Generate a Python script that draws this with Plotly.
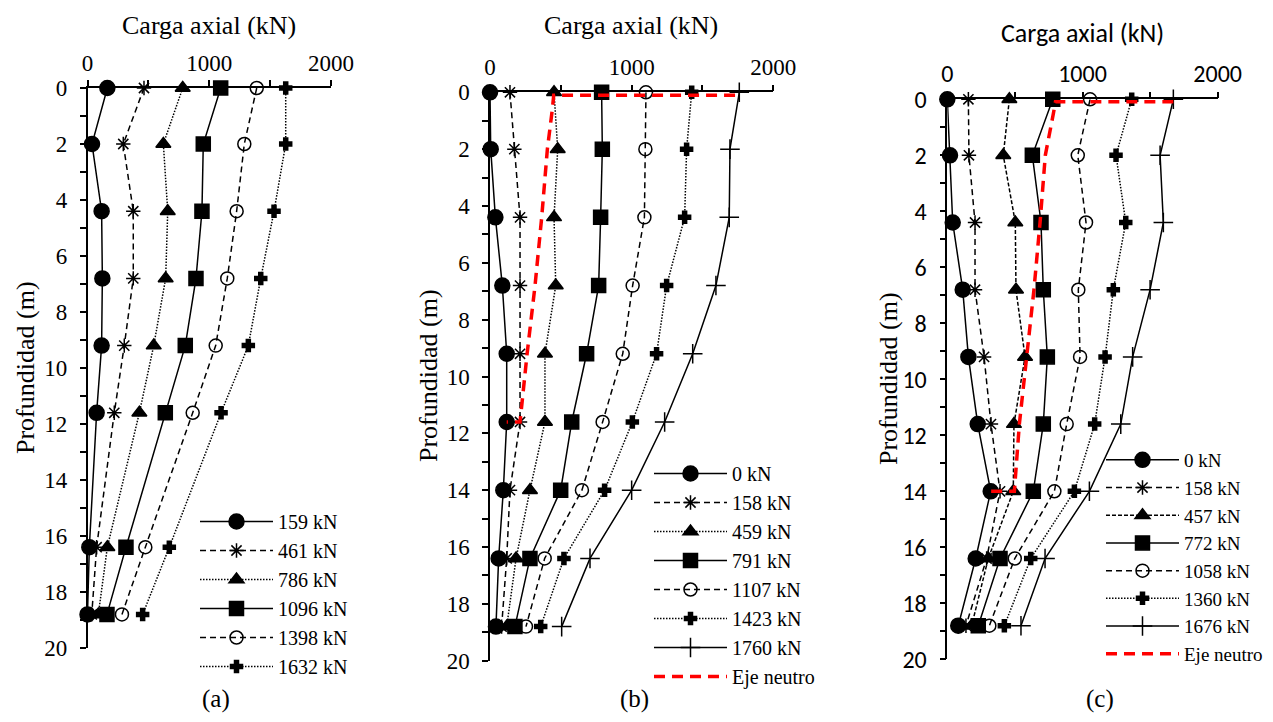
import plotly.graph_objects as go

# window is 1273x722; the page body has an 8px margin, so the figure is 16px smaller
WIN_W, WIN_H = 1273, 722
OFF = 8
W, H = WIN_W - 2 * OFF, WIN_H - 2 * OFF

# ---------------- data ----------------
depth_a = [0, 2, 4.4, 6.8, 9.2, 11.6, 16.4, 18.8]
depth_bc = [0, 2, 4.4, 6.8, 9.2, 11.6, 14, 16.4, 18.8]

labels_a = ["159 kN", "461 kN", "786 kN", "1096 kN", "1398 kN", "1632 kN"]
a_159 = [163, 37, 116, 122, 116, 75, 15, 0]
a_461 = [464, 294, 376, 376, 302, 220, 75, 35]
a_786 = [782, 623, 659, 642, 544, 426, 163, 89]
a_1096 = [1094, 951, 940, 891, 803, 639, 316, 160]
a_1398 = [1390, 1288, 1225, 1148, 1053, 864, 475, 283]
a_1632 = [1628, 1628, 1532, 1423, 1321, 1097, 672, 453]

labels_b = ["0 kN", "158 kN", "459 kN", "791 kN", "1107 kN", "1423 kN", "1760 kN"]
b_0 = [0, 5, 38, 87, 118, 118, 94, 61, 42]
b_158 = [141, 172, 212, 212, 212, 212, 141, 118, 82]
b_459 = [452, 478, 452, 464, 388, 388, 282, 184, 118]
b_791 = [788, 793, 781, 767, 682, 577, 499, 282, 176]
b_1107 = [1101, 1097, 1090, 1007, 937, 795, 649, 386, 254]
b_1423 = [1424, 1388, 1374, 1247, 1176, 1005, 809, 522, 358]
b_1760 = [1760, 1694, 1689, 1595, 1431, 1233, 1000, 706, 506]
b_neutral_depth = [0.1, 0.1, 0.6, 2, 4.4, 6.8, 9.2, 11.6, 11.6]
b_neutral_load = [1730, 450, 440, 405, 365, 318, 262, 212, 118]

labels_c = ["0 kN", "158 kN", "457 kN", "772 kN", "1058 kN", "1360 kN", "1676 kN"]
c_0 = [0, 20, 40, 114, 156, 225, 321, 210, 81]
c_158 = [156, 160, 205, 205, 272, 323, 390, 291, 138]
c_457 = [459, 414, 503, 508, 575, 493, 488, 303, 180]
c_772 = [780, 629, 693, 710, 740, 710, 636, 390, 229]
c_1058 = [1056, 965, 1026, 969, 982, 883, 792, 499, 311]
c_1360 = [1364, 1248, 1320, 1228, 1167, 1090, 940, 617, 422]
c_1676 = [1672, 1574, 1598, 1500, 1371, 1283, 1051, 723, 545]
c_neutral_depth = [0.09, 0.09, 0.5, 2, 4.4, 6.8, 9.2, 11.6, 14, 14]
c_neutral_load = [1672, 800, 785, 725, 686, 641, 587, 533, 496, 321]

neutral_label = "Eje neutro"
x_title = "Carga axial (kN)"
y_title = "Profundidad (m)"
panel_labels = ["(a)", "(b)", "(c)"]
x_tickvals = [0, 500, 1000, 1500, 2000]
x_ticktext = ["0", "", "1000", "", "2000"]
y_tickvals = list(range(0, 21))
y_ticktext = [str(v) if v % 2 == 0 else "" for v in y_tickvals]

# ---------------- styles ----------------
SERIF = "'Liberation Serif', 'Times New Roman', serif"
SANS = "Carlito, Lato, 'Liberation Sans', sans-serif"
DASH = "6px,4px"
SHORTDASH = "4px,2px"
DOT = "1.5px,1.5px"

styles_a = [
    dict(symbol="circle", size=15, dash="solid"),
    dict(symbol="asterisk-open", size=12, dash=DASH),
    dict(symbol="triangle-up", size=13, dash=DOT),
    dict(symbol="square", size=14, dash="solid"),
    dict(symbol="circle-open", size=13, dash=DASH),
    dict(symbol="cross", size=10, dash=DOT),
]
styles_b = styles_a + [dict(symbol="cross-thin-open", size=14, dash="solid")]
styles_c = [
    dict(symbol="circle", size=15, dash="solid"),
    dict(symbol="asterisk-open", size=12, dash=DASH),
    dict(symbol="triangle-up", size=13, dash=SHORTDASH),
    dict(symbol="square", size=14, dash="solid"),
    dict(symbol="circle-open", size=13, dash=DASH),
    dict(symbol="cross", size=10, dash=DOT),
    dict(symbol="cross-thin-open", size=14, dash="solid"),
]


def px2x(p):
    # p: pixel x in the browser window
    return (p - OFF) / W


def px2y(p):
    return 1 - (p - OFF) / H


fig = go.Figure()

panels = [
    dict(xa="x", ya="y", leg="legend", depth=depth_a,
         series=[a_159, a_461, a_786, a_1096, a_1398, a_1632], labels=labels_a, styles=styles_a,
         neutral=None),
    dict(xa="x2", ya="y2", leg="legend2", depth=depth_bc,
         series=[b_0, b_158, b_459, b_791, b_1107, b_1423, b_1760], labels=labels_b, styles=styles_b,
         neutral=(b_neutral_load, b_neutral_depth)),
    dict(xa="x3", ya="y3", leg="legend3", depth=depth_bc,
         series=[c_0, c_158, c_457, c_772, c_1058, c_1360, c_1676], labels=labels_c, styles=styles_c,
         neutral=(c_neutral_load, c_neutral_depth)),
]

for p in panels:
    for vals, lab, st in zip(p["series"], p["labels"], p["styles"]):
        fig.add_trace(go.Scatter(
            x=vals, y=p["depth"], name=lab, mode="lines+markers",
            xaxis=p["xa"], yaxis=p["ya"], legend=p["leg"], cliponaxis=False,
            line=dict(color="black", width=1.5, dash=st["dash"]),
            marker=dict(symbol=st["symbol"], size=st["size"], color="black",
                        line=dict(color="black", width=1.5)),
        ))
    if p["neutral"] is not None:
        nl, nd = p["neutral"]
        fig.add_trace(go.Scatter(
            x=nl, y=nd, name=neutral_label, mode="lines",
            xaxis=p["xa"], yaxis=p["ya"], legend=p["leg"], cliponaxis=False,
            line=dict(color="#ff0000", width=3.5, dash="11px,7px"),
        ))

# axis geometry in window pixels: (x0, x1, ytop, ybottom)
geo = [(87.5, 331, 88, 648), (490, 773.3, 92.3, 660.7), (947.3, 1217.7, 99.3, 659.3)]
tick_fonts = [SERIF, SERIF, SANS]
tick_sizes = [23, 23, 24]

layout = dict(width=W, height=H, margin=dict(l=0, r=0, t=0, b=0, autoexpand=False),
              paper_bgcolor="white", plot_bgcolor="white", showlegend=True)

for i, (x0, x1, yt, yb) in enumerate(geo):
    sfx = "" if i == 0 else str(i + 1)
    layout["xaxis" + sfx] = dict(
        domain=[px2x(x0), px2x(x1)], range=[0, 2000], side="top", automargin=False,
        anchor="y" + sfx, showgrid=False, zeroline=False, showline=True,
        linecolor="black", linewidth=1.5, ticks="outside", ticklen=6,
        tickwidth=1.5, tickcolor="black", tickvals=x_tickvals, ticktext=x_ticktext,
        tickfont=dict(family=tick_fonts[i], size=tick_sizes[i], color="black"), fixedrange=True,
    )
    layout["yaxis" + sfx] = dict(
        domain=[px2y(yb), px2y(yt)], range=[20, 0], anchor="x" + sfx, automargin=False,
        showgrid=False, zeroline=False, showline=True, linecolor="black",
        linewidth=1.5, ticks="outside", ticklen=6, tickwidth=1.5, tickcolor="black",
        tickvals=y_tickvals, ticktext=y_ticktext, ticklabelstandoff=8,
        tickfont=dict(family=tick_fonts[i], size=tick_sizes[i], color="black"), fixedrange=True,
    )

leg_common = dict(bgcolor="rgba(0,0,0,0)", borderwidth=0, xanchor="left", yanchor="top",
                  font=dict(family=SERIF, size=20, color="black"), itemwidth=73,
                  tracegroupgap=0)
layout["legend"] = dict(leg_common, x=px2x(195), y=px2y(502))
layout["legend2"] = dict(leg_common, x=px2x(649), y=px2y(454))
layout["legend3"] = dict(leg_common, x=px2x(1101), y=px2y(441),
                         font=dict(family=SERIF, size=19, color="black"))

fig.update_layout(**layout)

# titles and panel labels
title_pos = [(209, 25, SERIF, 26), (631, 25, SERIF, 26), (1082, 33, SANS, 26)]
for (cx, cy, fam, sz) in title_pos:
    fig.add_annotation(text=x_title, x=px2x(cx), y=px2y(cy), xref="paper", yref="paper",
                       showarrow=False, font=dict(family=fam, size=sz, color="black"),
                       xanchor="center", yanchor="middle")
ytitle_pos = [(25, 368), (428, 376), (888, 379)]
for (cx, cy) in ytitle_pos:
    fig.add_annotation(text=y_title, x=px2x(cx), y=px2y(cy), xref="paper", yref="paper",
                       showarrow=False, textangle=-90, font=dict(family=SERIF, size=26, color="black"),
                       xanchor="center", yanchor="middle")
lab_pos = [(216, 699), (634, 699), (1100, 699)]
for lab, (cx, cy) in zip(panel_labels, lab_pos):
    fig.add_annotation(text=lab, x=px2x(cx), y=px2y(cy), xref="paper", yref="paper",
                       showarrow=False, font=dict(family=SERIF, size=25, color="black"),
                       xanchor="center", yanchor="middle")

fig.write_html("out.html")
